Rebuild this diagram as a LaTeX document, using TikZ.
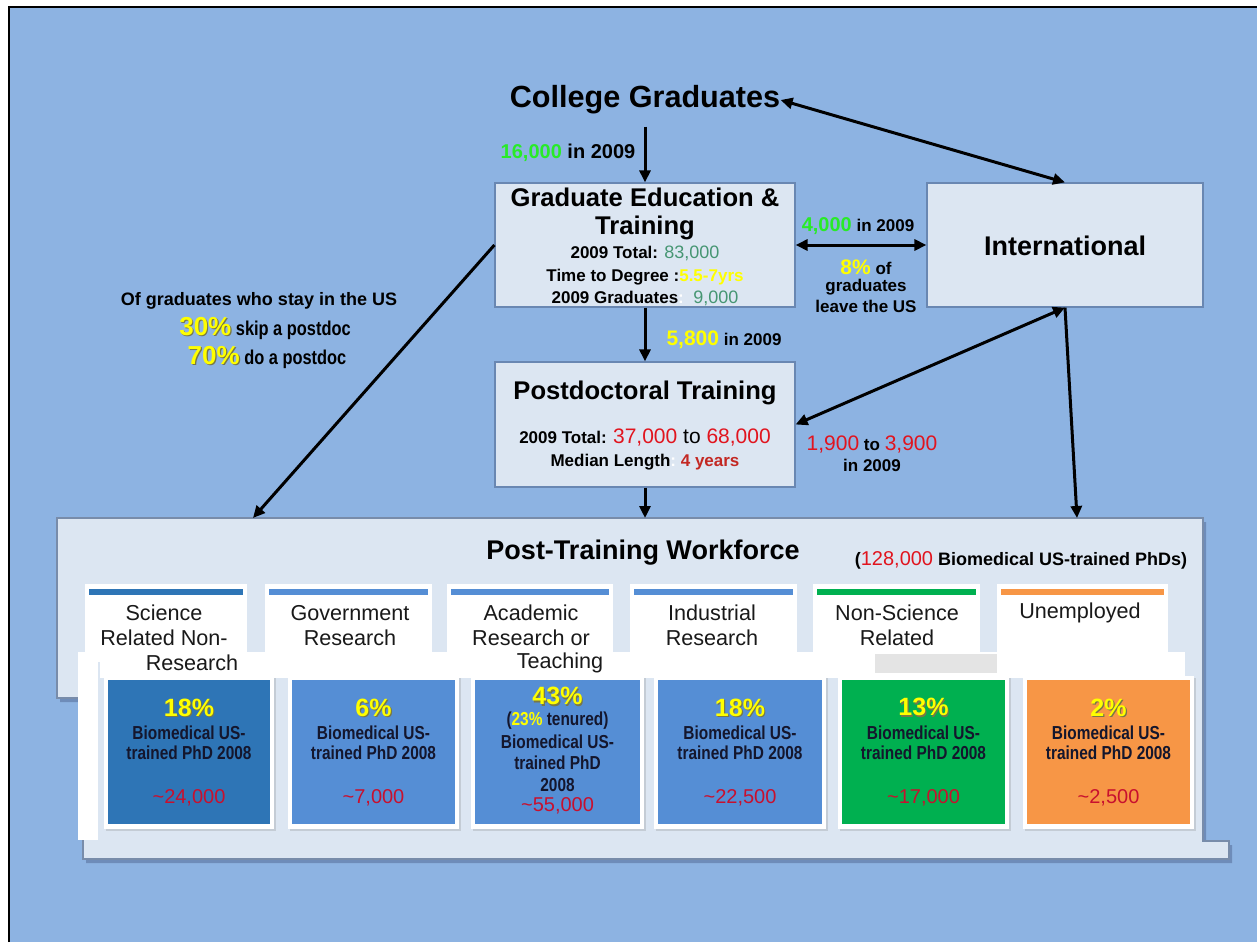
\documentclass[tikz,border=0pt]{standalone}
\usepackage{fontspec}
\setmainfont{Liberation Sans}
\newfontfamily\narrowfont[FakeStretch=0.82]{Liberation Sans}
\usetikzlibrary{arrows.meta,shadows}
\definecolor{bg}{RGB}{141,179,226}
\definecolor{boxfill}{RGB}{220,230,242}
\definecolor{boxline}{RGB}{105,135,178}
\definecolor{panelline}{RGB}{120,140,170}
\definecolor{shadowc}{RGB}{110,140,185}
\definecolor{brightgreen}{RGB}{40,235,40}
\definecolor{tealgreen}{RGB}{70,150,115}
\definecolor{ylw}{RGB}{255,255,0}
\definecolor{ysh}{RGB}{120,120,70}
\definecolor{numred}{RGB}{225,20,30}
\definecolor{darkred}{RGB}{195,40,35}
\definecolor{crimson}{RGB}{200,16,46}
\definecolor{cardA}{RGB}{46,117,182}
\definecolor{cardB}{RGB}{85,142,213}
\definecolor{cardG}{RGB}{0,176,80}
\definecolor{cardO}{RGB}{247,150,70}
\definecolor{cardtext}{RGB}{20,22,45}
\definecolor{headtext}{RGB}{25,25,25}
\definecolor{grayp}{RGB}{228,228,228}
\newcommand{\FS}[1]{\fontsize{#1}{#1}\selectfont}
\newcommand{\yel}[1]{{\makebox[0pt][l]{\hspace{0.6pt}\raisebox{-0.6pt}{\color{ysh}#1}}\color{ylw}#1}}
\begin{document}
\begin{tikzpicture}[x=0.5pt,y=-0.5pt,
  txt/.style={inner sep=0pt, align=center},
  box/.style={draw=boxline, line width=0.6pt, fill=boxfill, inner sep=0pt},
  arr/.style={line width=1.5pt, -{Triangle[length=6pt,width=5.5pt]}},
  darr/.style={line width=1.5pt, {Triangle[length=6pt,width=5.5pt]}-{Triangle[length=6pt,width=5.5pt]}},
  hcard/.style={fill=white, inner sep=0pt, minimum height=39pt},
  frame/.style={fill=white, inner sep=0pt, minimum height=76.5pt, drop shadow={opacity=0.25, shadow xshift=1pt, shadow yshift=-1pt}},
  inbox/.style={inner sep=0pt, minimum height=72pt},
  htxt/.style={txt, text=headtext, font=\FS{10.8}},
  ctxt/.style={txt, text=cardtext, font=\narrowfont\bfseries\FS{9.4}},
  pct/.style={txt, font=\bfseries\FS{12.5}},
  num/.style={txt, text=crimson, font=\FS{10}},
  small/.style={txt, font=\bfseries\FS{8.5}}
]
\useasboundingbox (0,0) rectangle (1257,942);
\fill[white] (0,0) rectangle (1257,942);
\fill[bg] (9,7) rectangle (1257,942);
\draw[line width=1.3pt] (9,942) -- (9,7) -- (1257,7);

% workforce panel
\fill[shadowc] (60,522) -- (1206,522) -- (1206,845) -- (1232,845) -- (1232,863) -- (86,863) -- (86,702) -- (60,702) -- cycle;
\filldraw[fill=boxfill, draw=panelline, line width=0.6pt] (57,518) -- (1203,518) -- (1203,841) -- (1229,841) -- (1229,859) -- (83,859) -- (83,698) -- (57,698) -- cycle;
\coordinate (pA) at (253,518);
\coordinate (pB) at (645,518);
\coordinate (pC) at (1077,518);

\node[txt, font=\bfseries\FS{13.5}] (wf) at (643,553) {Post-Training Workforce};
\node[txt, font=\bfseries\FS{9}] (wfn) at (1021,560) {({\color{numred}\mdseries\FS{10}128,000} Biomedical US-trained PhDs)};

% header cards
\node[hcard, minimum width=81pt] (h1) at (166,623) {};
\node[hcard, minimum width=83.5pt] (h2) at (348.5,623) {};
\node[hcard, minimum width=83pt] (h3) at (530,623) {};
\node[hcard, minimum width=83.5pt] (h4) at (713.5,623) {};
\node[hcard, minimum width=83.5pt] (h5) at (896.5,623) {};
\node[hcard, minimum width=85.5pt] (h6) at (1082.5,623) {};
\fill[cardA] (89,589) rectangle (243,595);
\fill[cardB] (269,589) rectangle (428,595);
\fill[cardB] (451,589) rectangle (609,595);
\fill[cardB] (634,589) rectangle (793,595);
\fill[cardG] (817,589) rectangle (976,595);
\fill[cardO] (1001,589) rectangle (1164,595);

% white band
\fill[white] (100,652) rectangle (1185,678);
\fill[white] (78,652) rectangle (98,840);
\fill[grayp] (875,654) rectangle (997,673);

\node[htxt] (h1a) at (164,613) {Science};
\node[htxt] (h1b) at (164,638) {Related Non-};
\node[htxt] (h1c) at (192,663) {Research};
\node[htxt] (h2a) at (350,613) {Government};
\node[htxt] (h2b) at (350,638) {Research};
\node[htxt] (h3a) at (531,613) {Academic};
\node[htxt] (h3b) at (531,638) {Research or};
\node[htxt] (h3c) at (560,663) {Teaching};
\node[htxt] (h4a) at (712,613) {Industrial};
\node[htxt] (h4b) at (712,638) {Research};
\node[htxt] (h5a) at (897,613) {Non-Science};
\node[htxt] (h5b) at (897,638) {Related};
\node[htxt] (h6a) at (1080,613) {Unemployed};

% lower cards
\node[frame, minimum width=85pt] (f1) at (189,752.5) {};
\node[frame, minimum width=85.5pt] (f2) at (373.5,752.5) {};
\node[frame, minimum width=86.5pt] (f3) at (557.5,752.5) {};
\node[frame, minimum width=86pt] (f4) at (740,752.5) {};
\node[frame, minimum width=85.5pt] (f5) at (923.5,752.5) {};
\node[frame, minimum width=85.5pt] (f6) at (1108.5,752.5) {};
\node[inbox, fill=cardA, minimum width=81pt] (b1) at (189,752) {};
\node[inbox, fill=cardB, minimum width=81.5pt] (b2) at (373.5,752) {};
\node[inbox, fill=cardB, minimum width=82.5pt] (b3) at (557.5,752) {};
\node[inbox, fill=cardB, minimum width=82pt] (b4) at (740,752) {};
\node[inbox, fill=cardG, minimum width=81.5pt] (b5) at (923.5,752) {};
\node[inbox, fill=cardO, minimum width=81.5pt] (b6) at (1108.5,752) {};

\node[pct] (p1) at (189,708) {\yel{18\%}};
\node[ctxt] (p1a) at (189,733) {Biomedical US-};
\node[ctxt] (p1b) at (189,753) {trained PhD 2008};
\node[num] (p1n) at (189,798) {\textasciitilde24,000};

\node[pct] (p2) at (373.5,708) {\yel{6\%}};
\node[ctxt] (p2a) at (373.5,733) {Biomedical US-};
\node[ctxt] (p2b) at (373.5,753) {trained PhD 2008};
\node[num] (p2n) at (373.5,798) {\textasciitilde7,000};

\node[pct] (p3) at (557.5,697) {\yel{43\%}};
\node[ctxt] (p3t) at (557.5,721) {({\color{ylw}23\%} tenured)};
\node[ctxt] (p3a) at (557.5,742) {Biomedical US-};
\node[ctxt] (p3b) at (557.5,763) {trained PhD};
\node[ctxt] (p3c) at (557.5,785) {2008};
\node[num] (p3n) at (557.5,806) {\textasciitilde55,000};

\node[pct] (p4) at (740,708) {\yel{18\%}};
\node[ctxt] (p4a) at (740,733) {Biomedical US-};
\node[ctxt] (p4b) at (740,753) {trained PhD 2008};
\node[num] (p4n) at (740,798) {\textasciitilde22,500};

\node[pct] (p5) at (923.5,708) {\yel{13\%}};
\node[ctxt] (p5a) at (923.5,733) {Biomedical US-};
\node[ctxt] (p5b) at (923.5,753) {trained PhD 2008};
\node[num] (p5n) at (923.5,798) {\textasciitilde17,000};

\node[pct] (p6) at (1108.5,708) {\yel{2\%}};
\node[ctxt] (p6a) at (1108.5,733) {Biomedical US-};
\node[ctxt] (p6b) at (1108.5,753) {trained PhD 2008};
\node[num] (p6n) at (1108.5,798) {\textasciitilde2,500};

% main boxes
\node[box, minimum width=150pt, minimum height=62pt] (grad) at (645,245) {};
\node[box, minimum width=138pt, minimum height=62pt] (intl) at (1065,245) {};
\node[box, minimum width=150pt, minimum height=62.5pt] (postdoc) at (645,424.5) {};

\node[txt, font=\bfseries\FS{15.3}] (cg) at (645,100) {College Graduates};

\node[txt, font=\bfseries\FS{12.8}] (g1) at (645,197) {Graduate Education \&};
\node[txt, font=\bfseries\FS{12.8}] (g2) at (645,228) {Training};
\node[small] (g3) at (645,253) {2009 Total: {\mdseries\color{tealgreen}\FS{9}83,000}};
\node[small] (g4) at (645,277) {Time to Degree :{\color{ylw}5.5-7yrs}};
\node[small] (g5) at (645,298) {2009 Graduates{\color{white}:}\ \ {\mdseries\color{tealgreen}\FS{9}9,000}};

\node[txt, font=\bfseries\FS{13.5}] (it) at (1065,246) {International};

\node[txt, font=\bfseries\FS{12.8}] (d1) at (645,393) {Postdoctoral Training};
\node[small] (d2) at (645,438) {2009 Total: {\mdseries\FS{10.5}{\color{numred}37,000} to {\color{numred}68,000}}};
\node[small] (d3) at (645,462) {Median Length{\color{white}:}\ {\color{darkred}4 years}};

% labels
\node[txt, font=\bfseries\FS{10}] (lab1) at (568,153) {{\color{brightgreen}16,000} in 2009};
\node[txt, font=\bfseries\FS{8.5}] (lab2) at (858,226) {{\FS{10}\color{brightgreen}4,000} in 2009};
\node[txt, font=\bfseries\FS{8.5}] (lab3) at (866,267) {{\FS{10.5}\color{ylw}8\%} of};
\node[txt, font=\bfseries\FS{8.5}] (lab4) at (866,287) {graduates};
\node[txt, font=\bfseries\FS{8.5}] (lab5) at (866,306) {leave the US};
\node[txt, font=\bfseries\FS{8.5}] (lab6) at (724,340) {{\FS{10.5}\color{ylw}5,800} in 2009};
\node[txt, font=\bfseries\FS{8.5}] (lab7) at (872,445) {{\mdseries\FS{10.5}\color{numred}1,900} to {\mdseries\FS{10.5}\color{numred}3,900}};
\node[txt, font=\bfseries\FS{8.5}] (lab8) at (872,465) {in 2009};

\node[txt, font=\bfseries\FS{9}] (l1) at (259,301) {Of graduates who stay in the US};
\node[txt] (l2) at (265,328) {{\bfseries\FS{13}\yel{30\%}}{\narrowfont\bfseries\FS{10} skip a postdoc}};
\node[txt] (l3) at (267,357) {{\bfseries\FS{13}\yel{70\%}}{\narrowfont\bfseries\FS{10} do a postdoc}};

% connectors
\draw[arr, shorten <=6pt] (cg.south) -- (grad.north);
\draw[darr] (cg.east) -- (intl.north);
\draw[darr] (grad.east) -- (intl.west);
\draw[arr] (grad.west) -- (pA);
\draw[arr] (grad.south) -- (postdoc.north);
\draw[arr] (postdoc.south) -- (pB);
\draw[darr] (intl.south) -- (postdoc.east);
\draw[arr] (intl.south) -- (pC);
\end{tikzpicture}
\end{document}
